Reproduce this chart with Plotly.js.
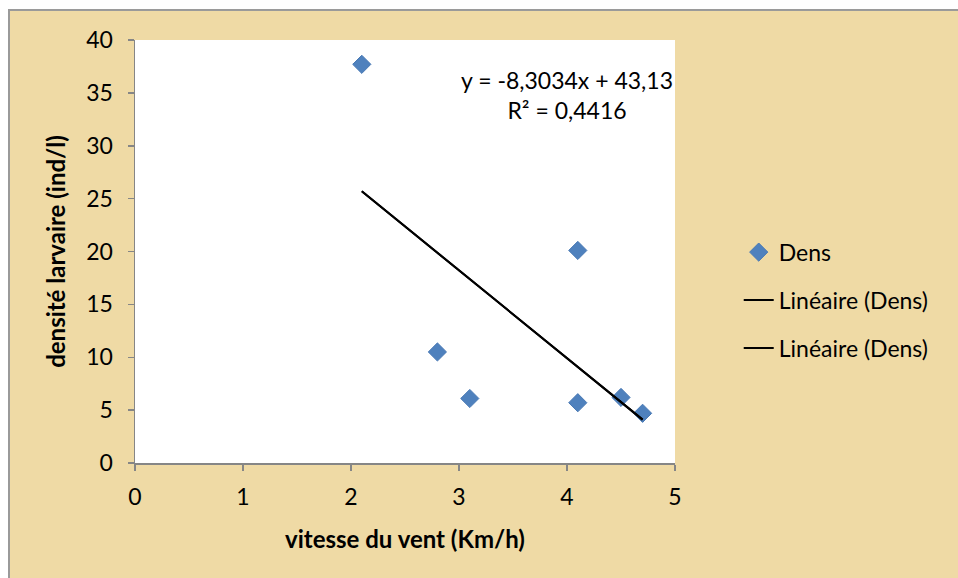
<!DOCTYPE html>
<html>
<head>
<meta charset="utf-8">
<script src="https://cdn.plot.ly/plotly-3.0.1.min.js"></script>
<style>
  html, body { margin: 0; padding: 0; background: #ffffff; }
  #wrap { position: absolute; left: 8px; top: 9px; width: 950px; height: 569px;
          border-left: 2px solid #9a9a9a; border-top: 2px solid #9a9a9a; box-sizing: border-box; }
  #chart { width: 948px; height: 567px; }
</style>
</head>
<body>
<div id="wrap"><div id="chart"></div></div>
<script>
// Data
const ventX = [2.1, 2.8, 3.1, 4.1, 4.1, 4.5, 4.7];
const densY = [37.7, 10.5, 6.1, 20.1, 5.7, 6.2, 4.7];
const seriesName = "Dens";
const trendName = "Linéaire (Dens)";
const slope = -8.3034;
const intercept = 43.13;
const r2Label = "0,4416";
const xTicks = [0, 1, 2, 3, 4, 5];
const yTicks = [0, 5, 10, 15, 20, 25, 30, 35, 40];

const trendX = [Math.min(...ventX), Math.max(...ventX)];
const trendY = trendX.map(x => slope * x + intercept);

const font = "Lato, 'Open Sans', sans-serif";

const traces = [
  { x: ventX, y: densY, name: seriesName, type: "scatter", mode: "markers", legendgroup: "a",
    marker: { symbol: "diamond", size: 14, color: "#4f81bd", line: { color: "#4a7ab5", width: 1 } } },
  { x: trendX, y: trendY, name: trendName, type: "scatter", mode: "lines", legendgroup: "b",
    line: { color: "#000000", width: 2 } },
  { x: trendX, y: trendY, name: trendName, type: "scatter", mode: "lines", legendgroup: "c",
    line: { color: "#000000", width: 2 } }
];

const layout = {
  width: 948, height: 567,
  margin: { l: 125, r: 283, t: 29, b: 115 },
  paper_bgcolor: "#efdaa5",
  plot_bgcolor: "#ffffff",
  font: { family: font, size: 23, color: "#000000" },
  showlegend: true,
  legend: { x: 1.118, xanchor: "left", y: 0.385, yanchor: "middle",
            bgcolor: "rgba(0,0,0,0)", font: { size: 23 }, tracegroupgap: 15 },
  xaxis: {
    range: [0, 5], tickvals: xTicks, ticktext: xTicks.map(String),
    showgrid: false, zeroline: false, showline: true, linecolor: "#868686", linewidth: 1.5,
    ticks: "outside", ticklen: 6, tickcolor: "#868686", tickwidth: 1.5, ticklabelstandoff: 7,
    title: { text: "<b>vitesse du vent (Km/h)</b>", font: { size: 24 }, standoff: 22 }
  },
  yaxis: {
    range: [0, 40], tickvals: yTicks, ticktext: yTicks.map(String),
    showgrid: false, zeroline: false, showline: true, linecolor: "#868686", linewidth: 1.5,
    ticks: "outside", ticklen: 6, tickcolor: "#868686", tickwidth: 1.5, ticklabelstandoff: 10,
    title: { text: "<b>densité larvaire (ind/l)</b>", font: { size: 24 }, standoff: 14 }
  },
  annotations: [{
    xref: "paper", yref: "paper", x: 0.80, y: 0.87, xanchor: "center", yanchor: "middle",
    showarrow: false, align: "center",
    text: "y = " + String(slope).replace(".", ",") + "x + " + String(intercept).replace(".", ",") +
          "<br>R² = " + r2Label,
    font: { size: 23 }
  }]
};

Plotly.newPlot("chart", traces, layout, { displayModeBar: false, staticPlot: true });
</script>
</body>
</html>
